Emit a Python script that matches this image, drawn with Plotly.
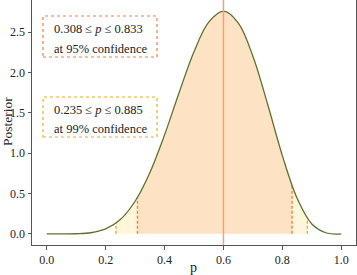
import plotly.graph_objects as go

# Posterior density
p_vals = [0.0, 0.05, 0.1, 0.15, 0.2, 0.25, 0.3, 0.35, 0.4, 0.45, 0.5,
          0.55, 0.6, 0.65, 0.7, 0.75, 0.8, 0.85, 0.9, 0.95, 1.0]
posterior = [0.0, 0.00003, 0.0015, 0.0137, 0.0606, 0.178, 0.404, 0.758, 1.226, 1.755, 2.256,
             2.622, 2.759, 2.614, 2.201, 1.606, 0.969, 0.441, 0.123, 0.0106, 0.0]

mode_p = 0.6
lo95, hi95 = 0.308, 0.833
lo95_y, hi95_y = 0.452, 0.600
lo99, hi99 = 0.235, 0.885
lo99_y, hi99_y = 0.133, 0.194

label95 = ["0.308 ≤ <i>p</i> ≤ 0.833", "at 95% confidence"]
label99 = ["0.235 ≤ <i>p</i> ≤ 0.885", "at 99% confidence"]

x_ticks = [0.0, 0.2, 0.4, 0.6, 0.8, 1.0]
y_ticks = [0.0, 0.5, 1.0, 1.5, 2.0, 2.5]

C_CURVE = "#5b7330"
C_F95 = "#fde3c3"
C_F99 = "#fff6dc"
C_95 = "#f8803f"
C_99 = "#f0ad20"
C_MODE = "#f5a07a"
FONT = "Liberation Serif, serif"


def segment(lo, lo_y, hi, hi_y):
    xs = [lo] + [x for x in p_vals if lo < x < hi] + [hi]
    ys = [lo_y] + [y for x, y in zip(p_vals, posterior) if lo < x < hi] + [hi_y]
    return xs, ys


fig = go.Figure()
x99, y99 = segment(lo99, lo99_y, hi99, hi99_y)
fig.add_trace(go.Scatter(x=x99, y=y99, mode="lines", line=dict(width=0, shape="spline"),
                         fill="tozeroy", fillcolor=C_F99, hoverinfo="skip"))
x95, y95 = segment(lo95, lo95_y, hi95, hi95_y)
fig.add_trace(go.Scatter(x=x95, y=y95, mode="lines", line=dict(width=0, shape="spline"),
                         fill="tozeroy", fillcolor=C_F95, hoverinfo="skip"))

for b, by, c in [(lo99, lo99_y, C_99), (hi99, hi99_y, C_99), (lo95, lo95_y, C_95), (hi95, hi95_y, C_95)]:
    fig.add_trace(go.Scatter(x=[b, b], y=[0, by], mode="lines",
                             line=dict(color=c, width=1.4, dash="3px,2px")))

fig.add_vline(x=mode_p, line=dict(color=C_MODE, width=1.5))

fig.add_trace(go.Scatter(x=p_vals, y=posterior, mode="lines",
                         line=dict(color=C_CURVE, width=1.3, shape="spline")))


def px(x):
    return (x - 32) / 324


def py(y):
    return (245 - y) / 245


fig.add_shape(type="rect", xref="paper", yref="paper", x0=px(43), x1=px(157), y0=py(57), y1=py(16),
              line=dict(color=C_95, width=1.2, dash="dot"), fillcolor="white", layer="above")
fig.add_shape(type="rect", xref="paper", yref="paper", x0=px(43), x1=px(157), y0=py(137), y1=py(97),
              line=dict(color=C_99, width=1.2, dash="dot"), fillcolor="white", layer="above")

for lbl, ys in [(label95, (29, 49)), (label99, (110, 129))]:
    for t, yy in zip(lbl, ys):
        fig.add_annotation(x=px(52), y=py(yy), xref="paper", yref="paper", text=t, showarrow=False,
                           xanchor="left", yanchor="middle", font=dict(family=FONT, size=12.5, color="#222"))

# axis titles
fig.add_annotation(x=px(7), y=py(122), xref="paper", yref="paper", text="Posterior", showarrow=False,
                   textangle=-90, xanchor="center", yanchor="middle",
                   font=dict(family=FONT, size=13.5, color="#222"))
fig.add_annotation(x=px(193), y=py(267), xref="paper", yref="paper", text="p", showarrow=False,
                   xanchor="center", yanchor="middle", font=dict(family=FONT, size=14, color="#222"))

axis_common = dict(showline=True, linecolor="#555", linewidth=1, mirror=True, ticks="outside",
                   ticklen=3.5, tickcolor="#555", showgrid=False, zeroline=False, automargin=False,
                   tickfont=dict(family=FONT, size=12, color="#222"))

fig.update_layout(
    width=357, height=275, margin=dict(l=32, r=1, t=0, b=30),
    plot_bgcolor="white", paper_bgcolor="white", showlegend=False,
    xaxis=dict(range=[-0.05, 1.05], tickvals=x_ticks, ticktext=[f"{v:.1f}" for v in x_ticks],
               **axis_common),
    yaxis=dict(range=[-0.138, 2.897], tickvals=y_ticks, ticktext=[f"{v:.1f}" for v in y_ticks],
               **axis_common),
)

fig.write_html("out.html", config={"displayModeBar": False},
               post_script="document.body.style.margin='0';document.body.style.overflow='hidden';")
